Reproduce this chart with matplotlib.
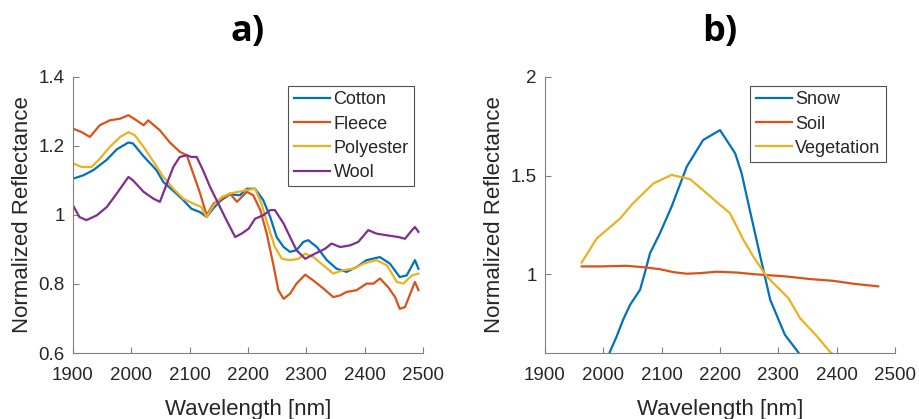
import matplotlib
matplotlib.use('Agg')
import matplotlib.pyplot as plt

# panel a) - textile samples
cotton_wl = [1900, 1918, 1935, 1958, 1975, 1995, 2003, 2021, 2043, 2055, 2072, 2089, 2103, 2118,
             2129, 2141, 2152, 2169, 2186, 2198, 2212, 2226, 2238, 2249, 2261, 2272, 2283, 2295,
             2303, 2318, 2335, 2352, 2369, 2386, 2403, 2426, 2443, 2460, 2472, 2486, 2492]
cotton = [1.105, 1.115, 1.13, 1.16, 1.19, 1.21, 1.207, 1.17, 1.13, 1.095, 1.07, 1.043, 1.018, 1.008,
          0.994, 1.02, 1.04, 1.06, 1.057, 1.076, 1.076, 1.043, 0.994, 0.936, 0.907, 0.893, 0.898, 0.922,
          0.927, 0.907, 0.869, 0.844, 0.835, 0.849, 0.869, 0.878, 0.859, 0.82, 0.825, 0.869, 0.844]

fleece_wl = [1900, 1915, 1929, 1946, 1963, 1981, 1995, 2009, 2021, 2029, 2049, 2066, 2083, 2095,
             2106, 2118, 2129, 2141, 2155, 2169, 2181, 2198, 2209, 2221, 2232, 2243, 2252, 2261,
             2272, 2283, 2298, 2312, 2329, 2346, 2358, 2369, 2386, 2403, 2415, 2426, 2440, 2452,
             2460, 2469, 2478, 2486, 2492]
fleece = [1.25, 1.24, 1.226, 1.26, 1.274, 1.279, 1.289, 1.274, 1.26, 1.274, 1.245, 1.21, 1.183, 1.173,
          1.12, 1.062, 0.999, 1.033, 1.047, 1.062, 1.038, 1.067, 1.057, 1.014, 0.946, 0.859, 0.782, 0.757,
          0.772, 0.801, 0.827, 0.81, 0.787, 0.762, 0.767, 0.777, 0.782, 0.801, 0.801, 0.816, 0.791, 0.762,
          0.728, 0.733, 0.772, 0.806, 0.782]

poly_wl = [1900, 1915, 1932, 1946, 1963, 1981, 1995, 2006, 2021, 2038, 2055, 2072, 2089, 2106,
           2120, 2129, 2141, 2155, 2169, 2183, 2198, 2212, 2223, 2235, 2246, 2258, 2272, 2286,
           2298, 2312, 2329, 2346, 2363, 2380, 2398, 2420, 2438, 2455, 2466, 2481, 2492]
polyester = [1.149, 1.139, 1.139, 1.163, 1.197, 1.226, 1.24, 1.231, 1.197, 1.154, 1.11, 1.076, 1.047, 1.033,
             1.023, 0.994, 1.028, 1.052, 1.062, 1.067, 1.072, 1.076, 1.033, 0.965, 0.907, 0.873, 0.869, 0.873,
             0.888, 0.878, 0.854, 0.83, 0.84, 0.844, 0.859, 0.869, 0.854, 0.806, 0.801, 0.825, 0.83]

wool_wl = [1900, 1911, 1923, 1941, 1958, 1975, 1995, 2003, 2021, 2038, 2049, 2061, 2072, 2083,
           2095, 2103, 2112, 2123, 2135, 2149, 2163, 2178, 2189, 2201, 2212, 2226, 2238, 2246,
           2261, 2272, 2283, 2298, 2315, 2332, 2343, 2358, 2375, 2389, 2406, 2420, 2438, 2458,
           2469, 2481, 2486, 2492]
wool = [1.028, 0.994, 0.985, 0.999, 1.023, 1.062, 1.11, 1.1, 1.067, 1.047, 1.038, 1.091, 1.139, 1.168,
        1.173, 1.168, 1.168, 1.129, 1.081, 1.033, 0.985, 0.936, 0.946, 0.96, 0.989, 0.999, 1.014, 1.014,
        0.975, 0.936, 0.898, 0.873, 0.888, 0.902, 0.917, 0.907, 0.912, 0.922, 0.956, 0.946, 0.941, 0.936,
        0.931, 0.956, 0.965, 0.951]

# panel b) - natural surfaces
snow_wl = [2000, 2011, 2023, 2034, 2046, 2063, 2071, 2080, 2097, 2117, 2143, 2171, 2200, 2226,
           2237, 2251, 2269, 2286, 2311, 2334, 2345]
snow = [0.45, 0.604, 0.685, 0.769, 0.845, 0.921, 1.005, 1.106, 1.207, 1.342, 1.545, 1.68, 1.73, 1.612,
        1.511, 1.325, 1.089, 0.87, 0.693, 0.604, 0.55]

soil_wl = [1963, 1994, 2040, 2069, 2097, 2120, 2143, 2166, 2194, 2229, 2257, 2280, 2314, 2354,
           2394, 2429, 2471]
soil = [1.039, 1.039, 1.042, 1.035, 1.025, 1.01, 1.002, 1.005, 1.012, 1.008, 1.0, 0.995, 0.988, 0.975,
        0.966, 0.951, 0.938]

veg_wl = [1963, 1989, 2006, 2029, 2051, 2086, 2117, 2149, 2177, 2200, 2217, 2240, 2257, 2280,
          2297, 2317, 2337, 2366, 2389, 2400]
vegetation = [1.059, 1.182, 1.224, 1.283, 1.359, 1.46, 1.503, 1.481, 1.41, 1.351, 1.309, 1.174, 1.089, 0.988,
              0.938, 0.879, 0.777, 0.685, 0.604, 0.58]

xticks = [1900, 2000, 2100, 2200, 2300, 2400, 2500]

blue, orange, yellow, purple = '#0072BD', '#D95319', '#EDB120', '#7E2F8E'
txt = '#262626'

plt.rcParams['font.family'] = ['Liberation Sans', 'DejaVu Sans']

fig = plt.figure(figsize=(9.19, 4.19), dpi=100)
ax1 = fig.add_axes([0.0794, 0.1575, 0.381, 0.659])
ax2 = fig.add_axes([0.593, 0.1575, 0.381, 0.659])

lw = 1.6
ax1.plot(cotton_wl, cotton, color=blue, lw=lw, label='Cotton')
ax1.plot(fleece_wl, fleece, color=orange, lw=lw, label='Fleece')
ax1.plot(poly_wl, polyester, color=yellow, lw=lw, label='Polyester')
ax1.plot(wool_wl, wool, color=purple, lw=lw, label='Wool')
ax1.set_ylim(0.6, 1.4)
ax1.set_yticks([0.6, 0.8, 1.0, 1.2, 1.4])
ax1.set_yticklabels(['0.6', '0.8', '1', '1.2', '1.4'])

ax2.plot(snow_wl, snow, color=blue, lw=lw, label='Snow')
ax2.plot(soil_wl, soil, color=orange, lw=lw, label='Soil')
ax2.plot(veg_wl, vegetation, color=yellow, lw=lw, label='Vegetation')
ax2.set_ylim(0.6, 2.0)
ax2.set_yticks([1.0, 1.5, 2.0])
ax2.set_yticklabels(['1', '1.5', '2'])

for ax, title in [(ax1, 'a)'), (ax2, 'b)')]:
    ax.set_xlim(1900, 2500)
    ax.set_xticks(xticks)
    for s in ['top', 'right']:
        ax.spines[s].set_visible(False)
    for s in ['left', 'bottom']:
        ax.spines[s].set_color('#808080')
        ax.spines[s].set_linewidth(0.8)
    ax.tick_params(direction='in', length=4, width=0.8, color='#808080',
                   labelcolor=txt, labelsize=13.5)
    ax.tick_params(axis='x', pad=10)
    ax.tick_params(axis='y', pad=6)
    ax.set_xlabel('Wavelength [nm]', fontsize=16, color=txt, labelpad=11)
    ax.set_ylabel('Normalized Reflectance', fontsize=16, color=txt, labelpad=4)
    ax.set_title(title, fontsize=26, fontweight='bold', family='Open Sans', pad=26)
    leg = ax.legend(loc='upper right', fontsize=13, frameon=True, fancybox=False,
                    handlelength=2.0, handletextpad=0.2, borderpad=0.3, labelspacing=0.4,
                    borderaxespad=0.5)
    leg.get_frame().set_edgecolor('#262626')
    leg.get_frame().set_linewidth(0.8)
    for t in leg.get_texts():
        t.set_color(txt)

fig.savefig('out.png', dpi=100)
